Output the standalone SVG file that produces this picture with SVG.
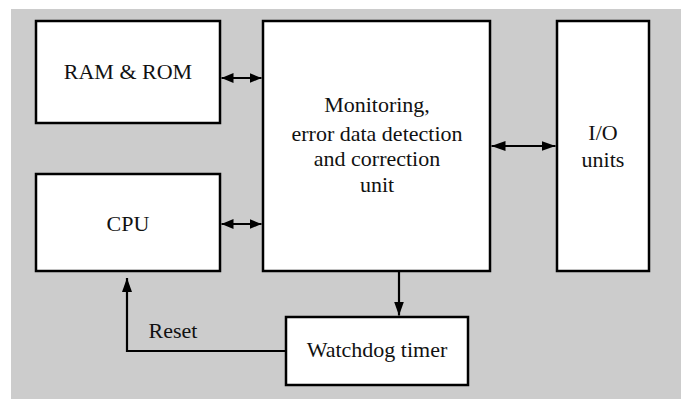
<svg xmlns="http://www.w3.org/2000/svg" width="696" height="399" viewBox="0 0 696 399">
  <style>
    .box { fill: #ffffff; stroke: #000000; stroke-width: 2.5; }
    .wire { fill: none; stroke: #000000; stroke-width: 2.2; }
    .label { font-family: "Liberation Serif", "Times New Roman", serif; font-size: 22px; fill: #111111; text-anchor: middle; }
  </style>
  <defs>
    <marker id="head" viewBox="0 0 14 10" refX="14" refY="5" markerWidth="14" markerHeight="10" markerUnits="userSpaceOnUse" orient="auto-start-reverse">
      <path d="M0,0 L14,5 L0,10 z" fill="#000000"/>
    </marker>
    <marker id="headSmall" viewBox="0 0 12 10" refX="12" refY="5" markerWidth="12" markerHeight="10" markerUnits="userSpaceOnUse" orient="auto-start-reverse">
      <path d="M0,0 L12,5 L0,10 z" fill="#000000"/>
    </marker>
  </defs>

  <!-- panel background -->
  <rect x="11" y="9" width="670" height="390" fill="#cccccc"/>

  <g id="ram-rom">
    <rect class="box" x="36" y="21" width="184" height="102"/>
    <text class="label" x="128" y="79">RAM &amp; ROM</text>
  </g>

  <g id="cpu">
    <rect class="box" x="36" y="174" width="184" height="97"/>
    <text class="label" x="128" y="231">CPU</text>
  </g>

  <g id="monitor-unit">
    <rect class="box" x="263" y="21" width="227" height="250"/>
    <text class="label" x="377" y="112">Monitoring,</text>
    <text class="label" x="377" y="141">error data detection</text>
    <text class="label" x="377" y="166">and correction</text>
    <text class="label" x="377" y="192">unit</text>
  </g>

  <g id="io-units">
    <rect class="box" x="557" y="21" width="92" height="250"/>
    <text class="label" x="603" y="140">I/O</text>
    <text class="label" x="603" y="167">units</text>
  </g>

  <g id="watchdog">
    <rect class="box" x="286" y="317" width="182" height="68"/>
    <text class="label" x="377" y="357">Watchdog timer</text>
  </g>

  <g id="connectors">
    <line class="wire" x1="221.5" y1="78" x2="261.5" y2="78" marker-start="url(#headSmall)" marker-end="url(#headSmall)"/>
    <line class="wire" x1="221.5" y1="224" x2="261.5" y2="224" marker-start="url(#headSmall)" marker-end="url(#headSmall)"/>
    <line class="wire" x1="491.5" y1="146" x2="555.5" y2="146" marker-start="url(#head)" marker-end="url(#head)"/>
    <line class="wire" x1="399" y1="272" x2="399" y2="315.5" marker-end="url(#head)"/>
    <polyline class="wire" points="286,351 127,351 127,278" marker-end="url(#head)"/>
    <text class="label" x="173" y="338">Reset</text>
  </g>
</svg>
